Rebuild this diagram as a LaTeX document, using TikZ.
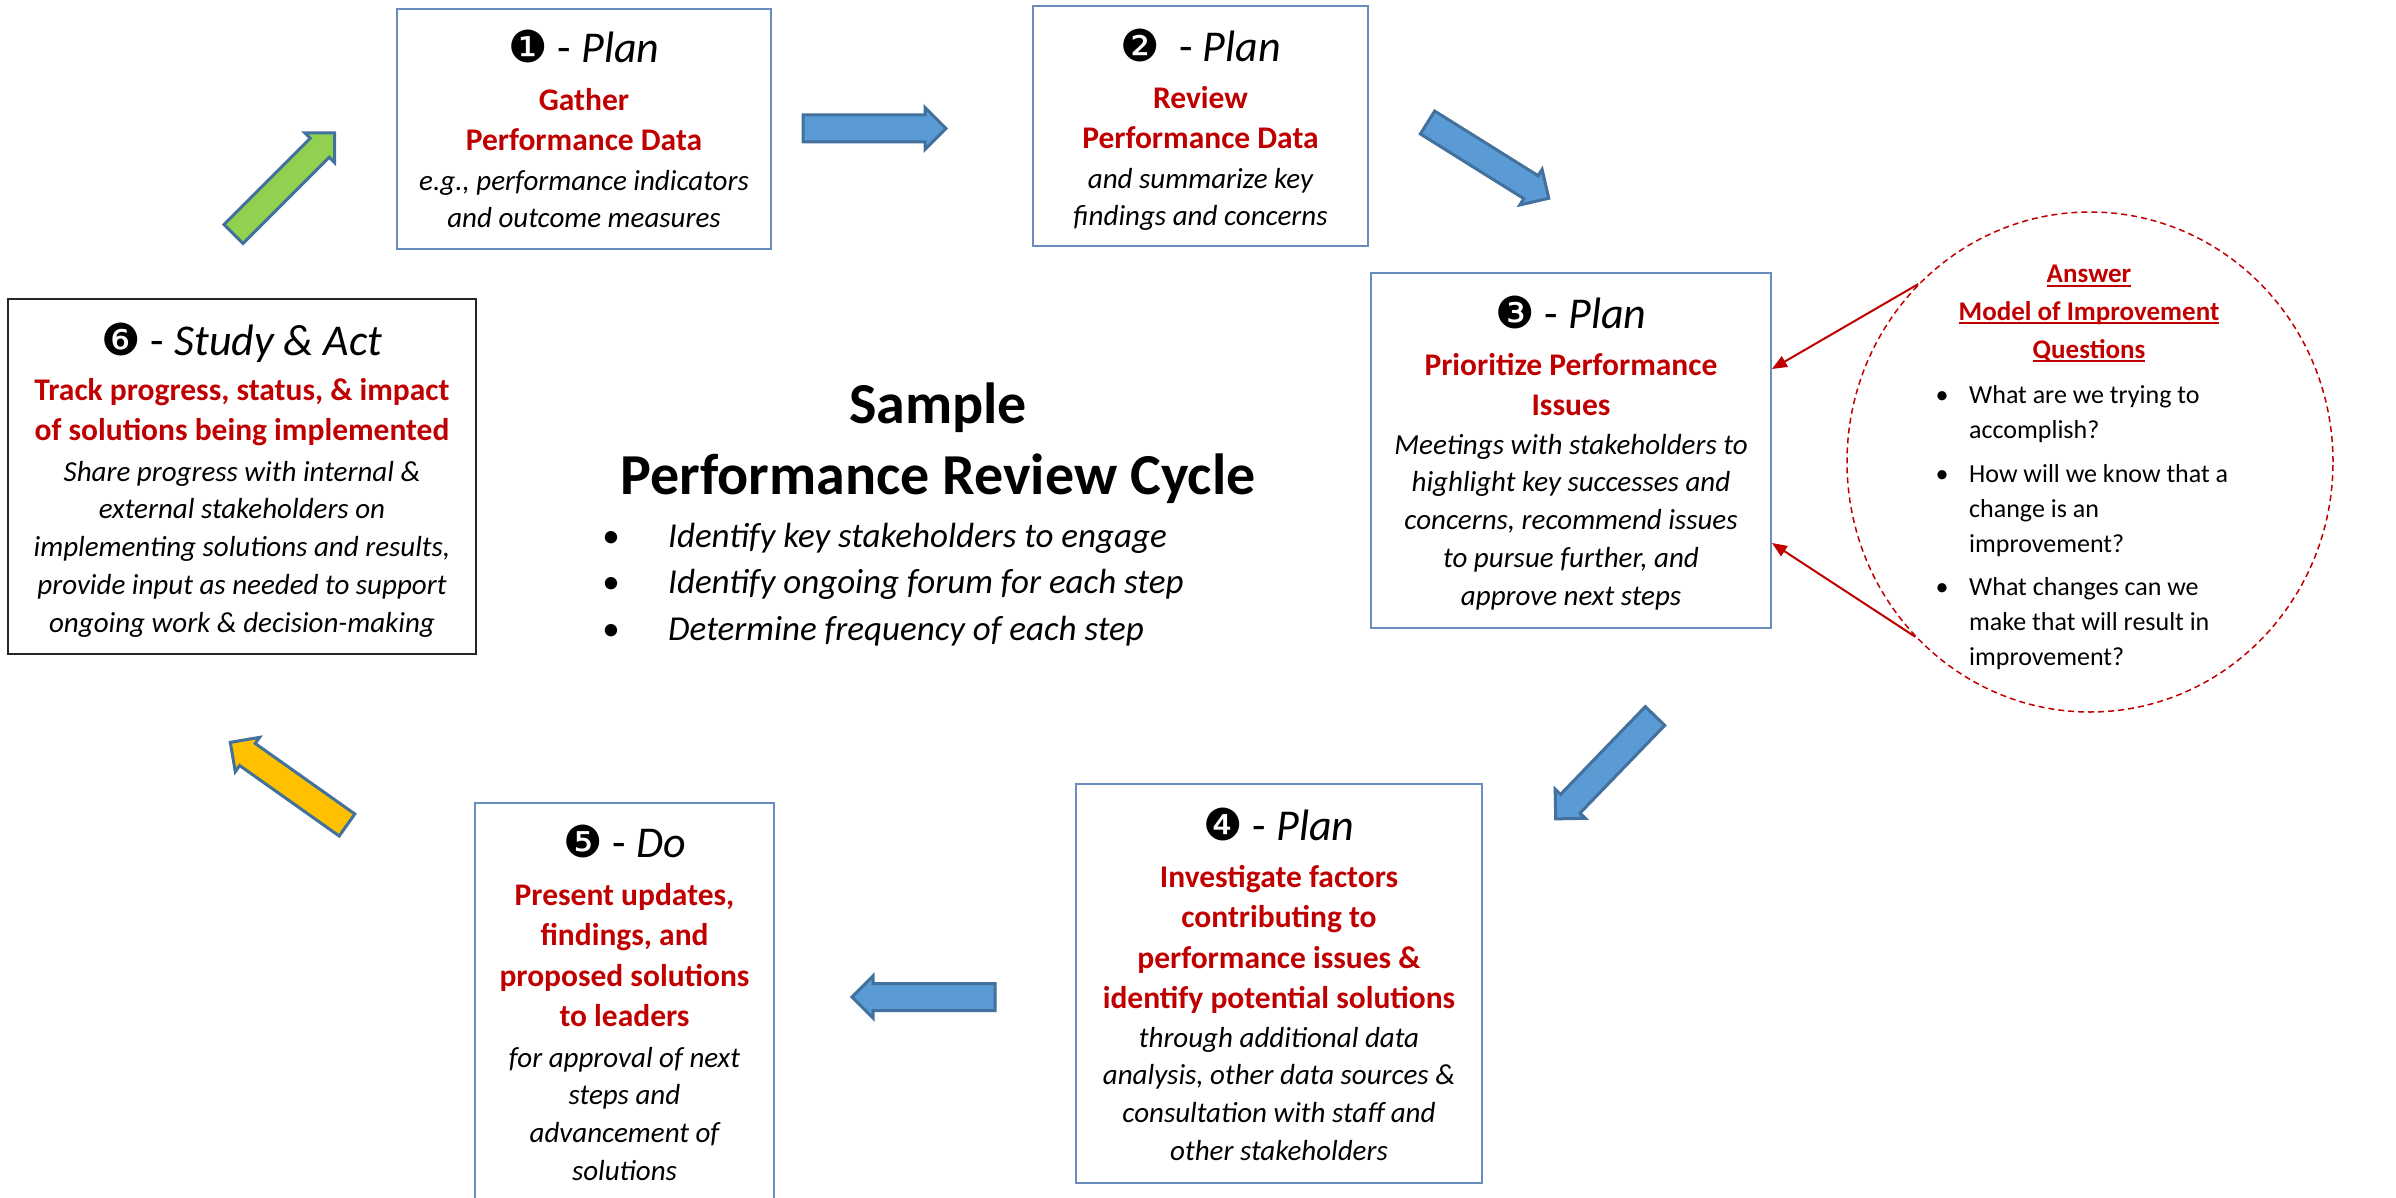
\documentclass[tikz,border=0pt]{standalone}
\usepackage{fontspec}
\setmainfont{Carlito}
\newfontfamily\dingfont{DejaVu Sans}
\usetikzlibrary{shapes.geometric,arrows.meta}

\definecolor{darkred}{HTML}{C00000}
\definecolor{boxblue}{RGB}{104,140,190}
\definecolor{arrowline}{HTML}{41719C}
\definecolor{arrowblue}{HTML}{5B9BD5}
\definecolor{arrowgreen}{HTML}{92D050}
\definecolor{arrowyellow}{HTML}{FFC000}

% strut that fixes the top of a text block at 0.9em above its first baseline
\newcommand{\fstrut}{\rule{0pt}{0.9em}}
% heavier underline for the red heading
\newsavebox{\ulbox}
\newcommand{\redul}[1]{\sbox{\ulbox}{#1}\rlap{\rule[-0.15em]{\wd\ulbox}{0.075em}}\usebox{\ulbox}}
% block arrow: tail centre (#1,#2), direction #3 degrees, fill #4
\newcommand{\blockarrow}[4]{%
  \begin{scope}[shift={(#1,#2)}, rotate=#3]
    \draw[arrowshape, fill=#4] (0,-13.5) -- (122,-13.5) -- (122,-21) -- (143,0)
      -- (122,21) -- (122,13.5) -- (0,13.5) -- cycle;
  \end{scope}}

\tikzset{
  stepbox/.style={draw=boxblue, line width=1.8pt, fill=white, inner sep=0pt},
  actbox/.style={draw=black!85, line width=1.8pt, fill=white, inner sep=0pt},
  titletxt/.style={font=\fontsize{44}{53}\selectfont, anchor=base, inner sep=0pt},
  redtxt/.style={font=\fontsize{31.5}{40.5}\selectfont\bfseries, text=darkred,
    align=center, anchor=north, inner sep=0pt},
  bodytxt/.style={font=\fontsize{29}{37.7}\selectfont\itshape, align=center,
    anchor=north, inner sep=0pt},
  arrowshape/.style={draw=arrowline, line width=3pt, line join=miter},
  qtxt/.style={font=\fontsize{26}{35}\selectfont, align=left, anchor=north west, inner sep=0pt},
  qbullet/.style={font=\fontsize{26}{35}\selectfont, anchor=base, inner sep=0pt},
  qhead/.style={font=\fontsize{27}{37}\selectfont\bfseries, text=darkred, anchor=base, inner sep=0pt},
  redarrow/.style={draw=darkred, line width=2pt, -{Triangle[length=15pt,width=12pt]}},
}

\begin{document}
\begin{tikzpicture}[x=1pt, y=-1pt]
  \fill[white] (0,0) rectangle (2396,1198);
  \useasboundingbox (0,0) rectangle (2396,1198);

  % ---- step boxes ----
  \node[stepbox, minimum width=374pt, minimum height=240pt] (s1) at (584,129) {};
  \node[stepbox, minimum width=335pt, minimum height=240pt] (s2) at (1200.5,126) {};
  \node[stepbox, minimum width=400pt, minimum height=355pt] (s3) at (1571,450.5) {};
  \node[stepbox, minimum width=406pt, minimum height=399pt] (s4) at (1279,983.5) {};
  \node[stepbox, minimum width=299pt, minimum height=412pt] (s5) at (624.5,1009) {};
  \node[actbox, minimum width=468pt, minimum height=355pt] (s6) at (242,476.5) {};

  % ---- step 1 ----
  \node[titletxt] (h1) at (584,63) {{\dingfont ❶} - \textit{Plan}};
  \node[redtxt] (r1) at (584,81.7) {\fstrut Gather\\Performance Data};
  \node[bodytxt] (b1) at (584,163.9) {\fstrut e.g., performance indicators\\and outcome measures};

  % ---- step 2 ----
  \node[titletxt] (h2) at (1200.5,62) {{\dingfont ❷} \ - \textit{Plan}};
  \node[redtxt] (r2) at (1200.5,79.7) {\fstrut Review\\Performance Data};
  \node[bodytxt] (b2) at (1200.5,161.9) {\fstrut and summarize key\\findings and concerns};

  % ---- step 3 ----
  \node[titletxt] (h3) at (1571,328) {{\dingfont ❸} - \textit{Plan}};
  \node[redtxt] (r3) at (1571,346.7) {\fstrut Prioritize Performance\\Issues};
  \node[bodytxt] (b3) at (1571,427.9) {\fstrut Meetings with stakeholders to\\highlight key successes and\\concerns, recommend issues\\to pursue further, and\\approve next steps};

  % ---- step 4 ----
  \node[titletxt] (h4) at (1279,840) {{\dingfont ❹} - \textit{Plan}};
  \node[redtxt] (r4) at (1279,858.7) {\fstrut Investigate factors\\contributing to\\performance issues \&\\identify potential solutions};
  \node[bodytxt] (b4) at (1279,1020.9) {\fstrut through additional data\\analysis, other data sources \&\\consultation with staff and\\other stakeholders};

  % ---- step 5 ----
  \node[titletxt] (h5) at (624.5,857) {{\dingfont ❺} - \textit{Do}};
  \node[redtxt] (r5) at (624.5,876.7) {\fstrut Present updates,\\findings, and\\proposed solutions\\to leaders};
  \node[bodytxt] (b5) at (624.5,1040.9) {\fstrut for approval of next\\steps and\\advancement of\\solutions};

  % ---- step 6 ----
  \node[titletxt] (h6) at (242,355) {{\dingfont ❻} - \textit{Study \& Act}};
  \node[redtxt] (r6) at (242,371.7) {\fstrut Track progress, status, \& impact\\of solutions being implemented};
  \node[bodytxt] (b6) at (242,454.9) {\fstrut Share progress with internal \&\\external stakeholders on\\implementing solutions and results,\\provide input as needed to support\\ongoing work \& decision-making};

  % ---- centre title and notes ----
  \node[font=\fontsize{58}{71}\selectfont\bfseries, anchor=base, inner sep=0pt] (ct1) at (938,423) {Sample};
  \node[font=\fontsize{58}{71}\selectfont\bfseries, anchor=base, inner sep=0pt] (ct2) at (938,494) {Performance Review Cycle};
  \foreach \yy/\tx [count=\i] in {547/Identify key stakeholders to engage,
                                 593/Identify ongoing forum for each step,
                                 640/Determine frequency of each step}{
    \node[font=\fontsize{35}{45}\selectfont, anchor=base, inner sep=0pt] (cb\i) at (611,\yy) {•};
    \node[font=\fontsize{35}{45}\selectfont\itshape, anchor=base west, inner sep=0pt] (cl\i) at (668,\yy) {\tx};
  }

  % ---- improvement questions ----
  \node[draw=darkred, line width=1.5pt, dash pattern=on 6pt off 4pt, ellipse,
        minimum width=486pt, minimum height=500pt, inner sep=0pt] (mq) at (2090,462) {};
  \node[qhead] (qh1) at (2089,283) {\redul{Answer}};
  \node[qhead] (qh2) at (2089,320) {\redul{Model of Improvement}};
  \node[qhead] (qh3) at (2089,358) {\redul{Questions}};
  \node[qbullet] (qb1) at (1942,403) {•};
  \node[qtxt] (q1) at (1969,379.6) {\fstrut What are we trying to\\accomplish?};
  \node[qbullet] (qb2) at (1942,482) {•};
  \node[qtxt] (q2) at (1969,458.6) {\fstrut How will we know that a\\change is an\\improvement?};
  \node[qbullet] (qb3) at (1942,595) {•};
  \node[qtxt] (q3) at (1969,571.6) {\fstrut What changes can we\\make that will result in\\improvement?};

  \draw[redarrow] (mq.134.3) -- ([yshift=81.5pt]s3.east);
  \draw[redarrow] (mq.225.5) -- ([yshift=-92.5pt]s3.east);

  % ---- cycle arrows ----
  \blockarrow{803}{128.5}{0}{arrowblue}
  \blockarrow{1427.5}{122.5}{-32}{arrowblue}
  \blockarrow{1655}{716}{-134}{arrowblue}
  \blockarrow{995}{997}{180}{arrowblue}
  \blockarrow{347}{825}{144.7}{arrowyellow}
  \blockarrow{233.5}{234}{45}{arrowgreen}
\end{tikzpicture}
\end{document}
